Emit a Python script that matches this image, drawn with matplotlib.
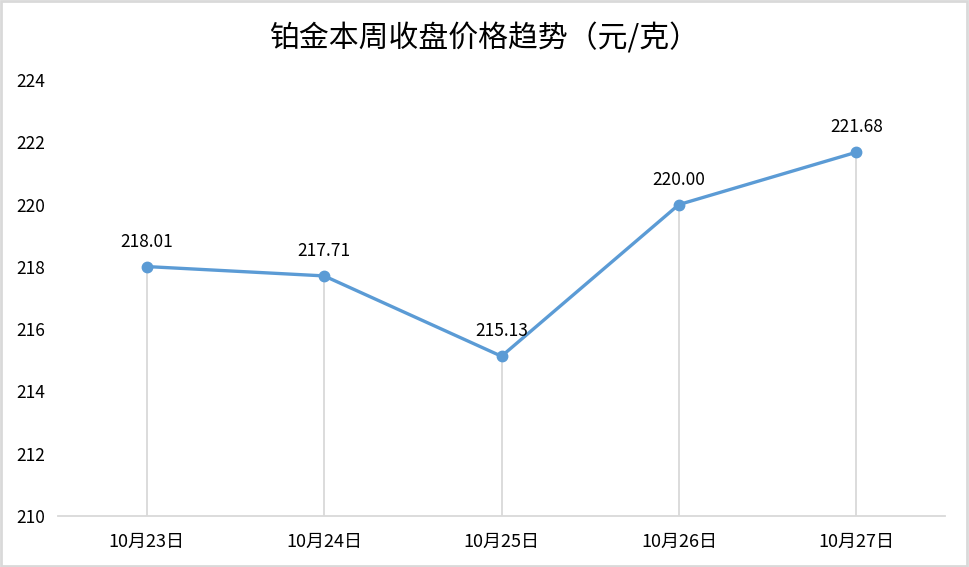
import matplotlib.pyplot as plt
from matplotlib.patches import Rectangle

plt.rcParams['font.family'] = ['Noto Sans CJK SC', 'DejaVu Sans']

dates = ["10月23日", "10月24日", "10月25日", "10月26日", "10月27日"]
prices = [218.01, 217.71, 215.13, 220.00, 221.68]
y_ticks = [210, 212, 214, 216, 218, 220, 222, 224]

line_color = "#5B9BD5"
grid_gray = "#D9D9D9"

fig = plt.figure(figsize=(9.69, 5.67), dpi=100)
ax = fig.add_axes([0.0599, 0.0899, 0.9153, 0.769])

xs = list(range(len(dates)))
ax.vlines(xs, 210, prices, color=grid_gray, linewidth=1.3, zorder=1)
ax.plot(xs, prices, color=line_color, linewidth=2.4, marker="o",
        markersize=7.5, zorder=3)

for x, p in zip(xs, prices):
    ax.annotate(f"{p:.2f}", (x, p), xytext=(0, 18), textcoords="offset points",
                ha="center", va="center", fontsize=12.5, color="#000000")

ax.set_xlim(-0.5, len(dates) - 0.5)
ax.set_ylim(210, 224)
ax.set_yticks(y_ticks)
ax.set_xticks(xs)
ax.set_xticklabels(dates, fontsize=13)
ax.tick_params(axis="y", length=0, labelsize=12.5, pad=9)
ax.tick_params(axis="x", length=0, pad=12)

for side in ["top", "right", "left"]:
    ax.spines[side].set_visible(False)
ax.spines["bottom"].set_color(grid_gray)
ax.spines["bottom"].set_linewidth(1.3)

fig.suptitle("铂金本周收盘价格趋势（元/克）", fontsize=21.5, y=0.958, color="#000000")

fig.patches.append(Rectangle((0.001, 0.002), 0.997, 0.996, transform=fig.transFigure,
                             fill=False, edgecolor=grid_gray, linewidth=2))

fig.savefig("out.png", dpi=100)
